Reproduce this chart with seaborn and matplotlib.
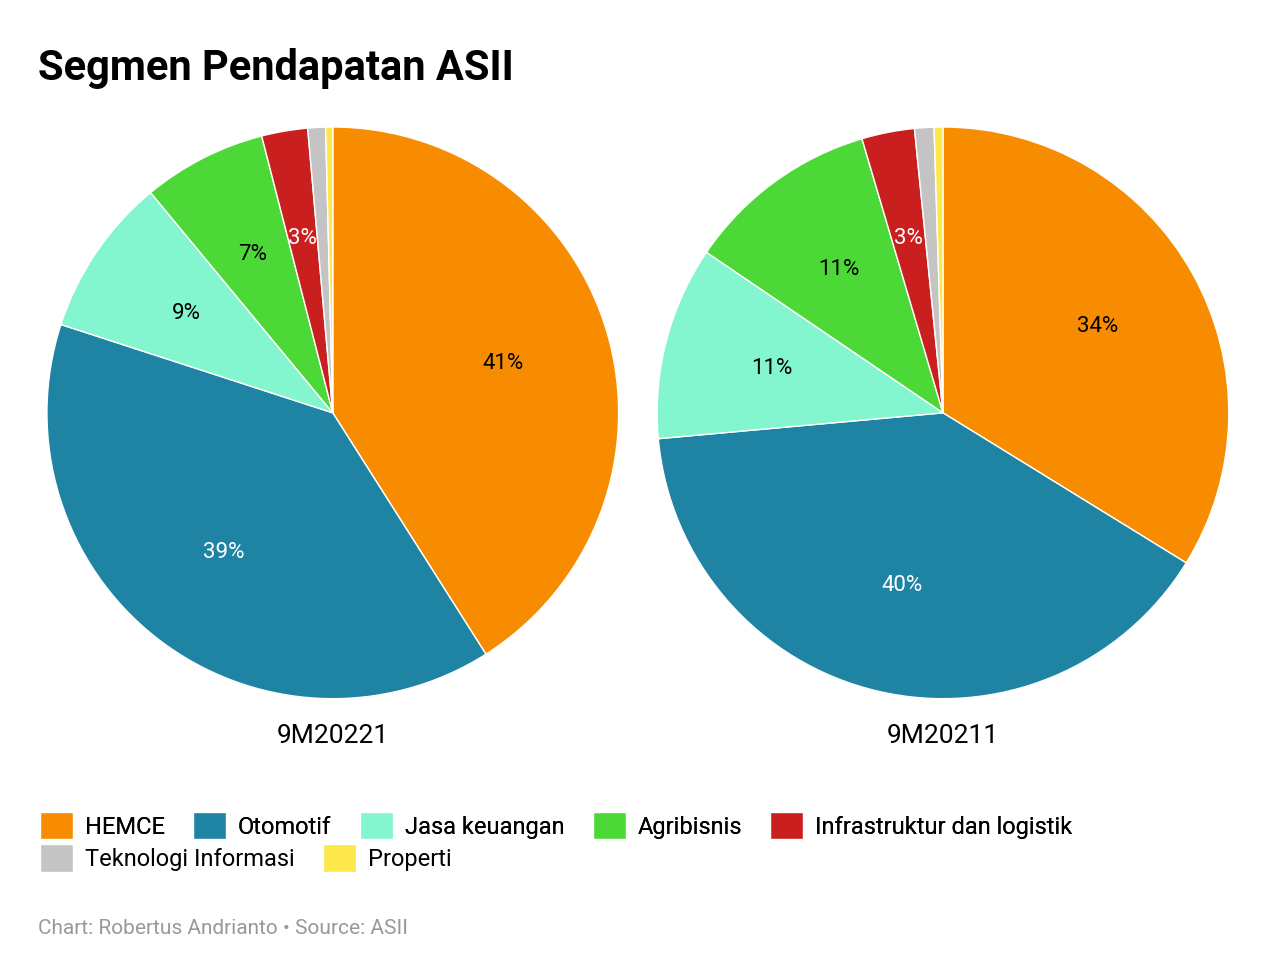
import matplotlib
matplotlib.use("Agg")
import matplotlib.pyplot as plt
import seaborn as sns
from matplotlib.patches import Patch

sns.set_style("white")
plt.rcParams['font.family'] = 'Roboto'
plt.rcParams['text.color'] = 'black'

segments = ['HEMCE', 'Otomotif', 'Jasa keuangan', 'Agribisnis',
            'Infrastruktur dan logistik', 'Teknologi Informasi', 'Properti']
values_2022 = [41, 39, 9, 7, 2.6, 1.0, 0.4]
values_2021 = [34, 40, 11, 11, 3, 1.1, 0.5]
periods = ['9M20221', '9M20211']
colors = ['#f78c00', '#1f83a3', '#83f5cf', '#4cd937', '#c91f1f', '#c4c4c4', '#fde84c']
text_colors = ['black', 'white', 'black', 'black', 'white', 'black', 'black']

fig = plt.figure(figsize=(12.76, 9.76), dpi=100)
axes = [fig.add_axes([0.0368, 0.284, 0.448, 0.586]),
        fig.add_axes([0.515, 0.284, 0.448, 0.586])]

for ax, vals, period in zip(axes, [values_2022, values_2021], periods):
    wedges, texts, autotexts = ax.pie(
        vals, colors=colors, startangle=90, counterclock=False,
        autopct=lambda p: f'{p:.0f}%' if p >= 2 else '', pctdistance=0.62,
        wedgeprops=dict(edgecolor='white', linewidth=1),
        textprops=dict(fontsize=16))
    for t, c in zip(autotexts, text_colors):
        t.set_color(c)
    ax.set_xlim(-1, 1)
    ax.set_ylim(-1, 1)
    ax.set_aspect('equal')
    ax.axis('off')
    ax.text(0, -1.13, period, ha='center', va='center', fontsize=19, clip_on=False)

fig.text(0.03, 0.918, 'Segmen Pendapatan ASII', fontsize=30, fontweight='bold')

handles = [Patch(facecolor=c, label=s) for c, s in zip(colors, segments)]
kw = dict(frameon=False, fontsize=17, handlelength=1.4, handleheight=1.4,
          columnspacing=1.2, handletextpad=0.5, borderaxespad=0, loc='center left')
leg1 = fig.legend(handles=handles[:5], bbox_to_anchor=(0.024, 0.154), ncol=5, **kw)
fig.add_artist(leg1)
fig.legend(handles=handles[5:], bbox_to_anchor=(0.024, 0.121), ncol=2, **kw)

fig.text(0.03, 0.043, 'Chart: Robertus Andrianto • Source: ASII', fontsize=15, color='#999999')

fig.savefig('out.png', dpi=100)
